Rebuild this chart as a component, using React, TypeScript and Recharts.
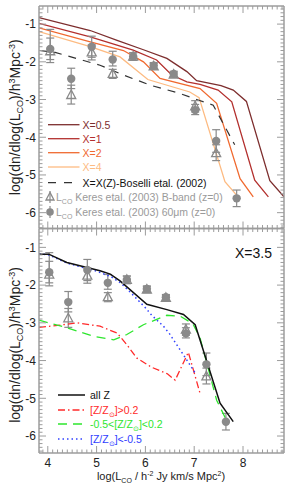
import React from "react";
import { ComposedChart, Line, Scatter, XAxis, YAxis, ErrorBar, Legend, Label } from "recharts";

const FONT = '"Liberation Sans", Arial, Helvetica, sans-serif';
const FRAME = "#9c9c9c";
const GREY = "#8a8a8a";

const xDomain: [number, number] = [3.82, 8.84];
const yDomainTop: [number, number] = [-6.42, -0.52];
const yDomainBottom: [number, number] = [-6.45, -0.5];

// tick labels
const xMajor = [4, 5, 6, 7, 8];
const yMajor = [-1, -2, -3, -4, -5, -6];
const step = (from: number, to: number) => {
  const out: number[] = [];
  for (let v = Math.round(from * 10); v <= Math.round(to * 10); v++) out.push(v / 10);
  return out;
};
const xTicks = step(3.9, 8.8);
const yTicksTop = step(-6.4, -0.6);
const yTicksBottom = step(-6.4, -0.5);

// Keres et al. (2003) CO luminosity function
const keresXTop = [4.05, 4.48, 4.9, 5.33, 5.75, 6.17, 6.58, 7.02, 7.45, 7.87];
const keresXBottom = [4.03, 4.42, 4.81, 5.23, 5.62, 6.03, 6.42, 6.83, 7.25, 7.65];
const fir60Y = [-1.66, -2.45, -1.6, -1.94, -1.86, -2.1, -2.32, -3.28, -4.1, -5.62];
const fir60ErrLo = [0.28, 0.26, 0.28, 0.17, 0.1, 0.08, 0.07, 0.12, 0.3, 0.22];
const fir60ErrHi = [0.52, 0.28, 0.28, 0.22, 0.1, 0.08, 0.07, 0.15, 0.3, 0.22];
const bbandY = [-1.72, -2.88, -1.75, -2.32, -1.86, -2.12, -2.34, -3.18, -4.42];
const bbandErrLo = [0.3, 0.24, 0.2, 0.12, 0.1, 0.08, 0.07, 0.15, 0.2];
const bbandErrHi = [0.35, 0.26, 0.2, 0.12, 0.1, 0.08, 0.07, 0.15, 0.22];

// top panel: conversion factor X
const x05X = [3.82, 4.87, 5.42, 5.96, 6.44, 6.85, 7.05, 7.55, 7.8, 8.07, 8.55, 8.84];
const x05Y = [-0.83, -1.17, -1.43, -1.68, -1.91, -2.26, -2.5, -2.63, -2.75, -3.05, -5.15, -5.58];
const x1X = [3.82, 4.87, 5.75, 6.23, 6.54, 6.85, 7.12, 7.49, 7.77, 8.24, 8.52];
const x1Y = [-0.98, -1.34, -1.69, -1.95, -2.35, -2.53, -2.6, -2.75, -3.06, -5.14, -5.58];
const x2X = [3.82, 4.87, 5.55, 5.96, 6.3, 7.12, 7.46, 7.94, 8.21];
const x2Y = [-1.1, -1.47, -1.7, -2.0, -2.44, -2.71, -3.1, -5.1, -5.58];
const x4X = [3.82, 4.87, 5.48, 6.05, 6.91, 7.1, 7.63, 7.9];
const x4Y = [-1.2, -1.6, -1.87, -2.47, -2.8, -2.95, -5.18, -5.58];
const boselliX = [3.82, 4.15, 5.07, 5.55, 6.1, 6.71, 7.05, 7.39, 7.83];
const boselliY = [-1.7, -1.75, -2.09, -2.35, -2.62, -2.84, -3.0, -3.15, -4.2];

// bottom panel: X=3.5 split by metallicity
const allZX = [3.82, 4.02, 4.39, 5.07, 5.28, 5.48, 6.03, 6.44, 6.78, 7.02, 7.53, 7.8];
const allZY = [-1.18, -1.18, -1.4, -1.62, -1.71, -1.89, -2.51, -2.65, -2.78, -3.05, -5.13, -5.62];
const hiZX = [3.82, 4.2, 4.6, 5.07, 5.42, 5.62, 5.82, 6.13, 6.45, 6.61, 6.88, 7.12];
const hiZY = [-3.12, -3.07, -3.0, -3.09, -3.27, -3.58, -3.93, -4.18, -4.35, -4.52, -3.78, -4.87];
const midZX = [3.82, 4.39, 4.94, 5.35, 5.62, 5.96, 6.44, 6.72, 6.97, 7.12, 7.46, 7.66];
const midZY = [-2.93, -3.13, -3.36, -3.45, -3.31, -3.05, -2.8, -2.83, -3.02, -3.4, -5.05, -5.58];
const loZX = [3.82, 4.02, 4.4, 5.0, 5.3, 5.5, 5.7, 6.0, 6.13, 6.37, 6.5, 6.78, 7.02];
const loZY = [-1.17, -1.2, -1.42, -1.63, -1.78, -1.95, -2.2, -2.6, -2.8, -3.09, -3.3, -3.85, -4.33];

const C05 = "#7d2e2e";
const C1 = "#b3302e";
const C2 = "#f06a30";
const C4 = "#fdbb82";
const RED = "#ff2a2a";
const GREEN = "#2ee62e";
const BLUE = "#3040ff";

const pts = (xs: number[], ys: number[]) => xs.map((x, i) => ({ x, y: ys[i] }));
const obs = (xs: number[], ys: number[], lo: number[], hi: number[]) =>
  ys.map((y, i) => ({ x: xs[i], y, err: [lo[i], hi[i]] }));

const isMajor = (v: number) => Math.abs(v - Math.round(v)) < 1e-6;

const makeTick = (side: string, labels: boolean) => (props: any) => {
  const { x, y, payload } = props;
  const v = payload.value;
  const len = isMajor(v) ? 7 : 3.5;
  let x2 = x;
  let y2 = y;
  if (side === "bottom") y2 = y - len;
  if (side === "top") y2 = y + len;
  if (side === "left") x2 = x + len;
  if (side === "right") x2 = x - len;
  const show = labels && isMajor(v);
  return (
    <g>
      <line x1={x} y1={y} x2={x2} y2={y2} stroke={FRAME} strokeWidth={1} />
      {show && side === "bottom" && (
        <text x={x} y={y + 14} textAnchor="middle" fontSize={12} fontFamily={FONT} fill="#222">
          {v}
        </text>
      )}
      {show && side === "left" && (
        <text x={x - 3} y={y} dy="0.36em" textAnchor="end" fontSize={12} fontFamily={FONT} fill="#222">
          {v}
        </text>
      )}
    </g>
  );
};

const YTitle = ({ cy }: { cy: number }) => (
  <text transform="rotate(-90)" x={-cy} y={19.5} textAnchor="middle" fontSize={14} fontFamily={FONT} fill="#222">
    log(dn/dlog(L
    <tspan dy={3} fontSize={9}>CO</tspan>
    <tspan dy={-3}>)/h</tspan>
    <tspan dy={-5} fontSize={9}>3</tspan>
    <tspan dy={5}>Mpc</tspan>
    <tspan dy={-5} fontSize={9}>-3</tspan>
    <tspan dy={5}>)</tspan>
  </text>
);

const frameAxes = (yDomain: [number, number], yTicks: number[], yCenter: number, xTitle: boolean) => [
  <XAxis
    key="xb"
    xAxisId="b"
    dataKey="x"
    type="number"
    orientation="bottom"
    domain={xDomain}
    allowDataOverflow
    ticks={xTicks}
    interval={0}
    height={1}
    tickSize={0}
    tickMargin={0}
    tickLine={false}
    axisLine={{ stroke: FRAME, strokeWidth: 1.5 }}
    tick={makeTick("bottom", xTitle)}
  >
    {xTitle && (
      <Label
        content={() => (
          <text x={161} y={252.5} textAnchor="middle" fontSize={11} fontFamily={FONT} fill="#222">
            log(L<tspan dy={3} fontSize={7}>CO</tspan>
            <tspan dy={-3}> / h</tspan>
            <tspan dy={-3.5} fontSize={7}>-2</tspan>
            <tspan dy={3.5}> Jy km/s Mpc</tspan>
            <tspan dy={-3.5} fontSize={7}>2</tspan>
            <tspan dy={3.5}>)</tspan>
          </text>
        )}
      />
    )}
  </XAxis>,
  <XAxis
    key="xt"
    xAxisId="t"
    dataKey="x"
    type="number"
    orientation="top"
    domain={xDomain}
    allowDataOverflow
    ticks={xTicks}
    interval={0}
    height={1}
    tickSize={0}
    tickMargin={0}
    tickLine={false}
    axisLine={{ stroke: FRAME, strokeWidth: 1.5 }}
    tick={makeTick("top", false)}
  />,
  <YAxis
    key="yl"
    yAxisId="l"
    dataKey="y"
    type="number"
    orientation="left"
    domain={yDomain}
    allowDataOverflow
    ticks={yTicks}
    interval={0}
    width={1}
    tickSize={0}
    tickMargin={0}
    tickLine={false}
    axisLine={{ stroke: FRAME, strokeWidth: 1.5 }}
    tick={makeTick("left", true)}
  >
    <Label content={() => <YTitle cy={yCenter} />} />
  </YAxis>,
  <YAxis
    key="yr"
    yAxisId="r"
    dataKey="y"
    type="number"
    orientation="right"
    domain={yDomain}
    allowDataOverflow
    ticks={yTicks}
    interval={0}
    width={1}
    tickSize={0}
    tickMargin={0}
    tickLine={false}
    axisLine={{ stroke: FRAME, strokeWidth: 1.5 }}
    tick={makeTick("right", false)}
  />,
];

const circleShape = (p: any) => <circle cx={p.cx} cy={p.cy} r={4.2} fill={GREY} />;
const triShape = (p: any) => (
  <polygon
    points={`${p.cx},${p.cy - 5} ${p.cx - 4.5},${p.cy + 3.5} ${p.cx + 4.5},${p.cy + 3.5}`}
    fill="none"
    stroke={GREY}
    strokeWidth={1.3}
  />
);

const keresSeries = (xs: number[]) => [
  <Scatter
    key="fir"
    xAxisId="b"
    yAxisId="l"
    data={obs(xs, fir60Y, fir60ErrLo, fir60ErrHi)}
    shape={circleShape}
    isAnimationActive={false}
  >
    <ErrorBar dataKey="err" direction="y" width={4} stroke={GREY} strokeWidth={1.2} isAnimationActive={false} />
  </Scatter>,
  <Scatter
    key="bb"
    xAxisId="b"
    yAxisId="l"
    data={obs(xs, bbandY, bbandErrLo, bbandErrHi)}
    shape={triShape}
    isAnimationActive={false}
  >
    <ErrorBar dataKey="err" direction="y" width={4} stroke={GREY} strokeWidth={1.2} isAnimationActive={false} />
  </Scatter>,
];

const LCO = ({ x, y, rest, color }: { x: number; y: number; rest: string; color: string }) => (
  <text x={x} y={y} fontSize={10.5} fontFamily={FONT} fill={color}>
    L<tspan dy={3} fontSize={7}>CO</tspan>
    <tspan dy={-3}>{rest}</tspan>
  </text>
);

const topRows = [
  { label: "X=0.5", color: C05, text: C05, dash: undefined as string | undefined, y: 124.7 },
  { label: "X=1", color: C1, text: C1, dash: undefined, y: 138.7 },
  { label: "X=2", color: C2, text: C2, dash: undefined, y: 152.7 },
  { label: "X=4", color: C4, text: C4, dash: undefined, y: 167 },
  { label: "X=X(Z)-Boselli etal. (2002)", color: "#333", text: "#111", dash: "8 8", y: 182.7 },
];

const TopLegend = () => (
  <svg width={299} height={230} style={{ position: "absolute", left: 0, top: 0, pointerEvents: "none" }}>
    {topRows.map((r) => (
      <g key={r.label}>
        <line x1={48} x2={79.5} y1={r.y} y2={r.y} stroke={r.color} strokeWidth={1.3} strokeDasharray={r.dash} />
        <text x={82.5} y={r.y + 3.8} fontSize={10.5} fontFamily={FONT} fill={r.text}>
          {r.label}
        </text>
      </g>
    ))}
    <line x1={50} x2={50} y1={191} y2={203} stroke={GREY} strokeWidth={1.2} />
    <polygon points="50,192.5 46,200 54,200" fill="none" stroke={GREY} strokeWidth={1.3} />
    <LCO x={56} y={200.8} rest=" Keres etal. (2003) B-band (z=0)" color="#9a9a9a" />
    <line x1={50} x2={50} y1={206} y2={218} stroke={GREY} strokeWidth={1.2} />
    <circle cx={50} cy={212} r={3.8} fill={GREY} />
    <LCO x={56} y={215.8} rest=" Keres etal. (2003) 60μm (z=0)" color="#9a9a9a" />
  </svg>
);

const ZLabel = ({ x, y, pre, post, color }: { x: number; y: number; pre: string; post: string; color: string }) => (
  <text x={x} y={y} fontSize={10.5} fontFamily={FONT} fill={color}>
    {pre}[Z/Z<tspan dy={3} fontSize={7}>⊙</tspan>
    <tspan dy={-3}>]{post}</tspan>
  </text>
);

// bottom chart starts at page y = 227
const BottomLegend = () => (
  <svg width={299} height={263} style={{ position: "absolute", left: 0, top: 0, pointerEvents: "none" }}>
    <text x={235} y={31} fontSize={14} fontFamily={FONT} fill="#111">
      X=3.5
    </text>
    <line x1={58} x2={85} y1={168} y2={168} stroke="#111" strokeWidth={1.5} />
    <text x={90} y={171.8} fontSize={10.5} fontFamily={FONT} fill="#111">
      all Z
    </text>
    <line x1={58} x2={85} y1={183} y2={183} stroke={RED} strokeWidth={1.3} strokeDasharray="7 3 1.5 3" />
    <ZLabel x={90} y={186.8} pre="" post=">0.2" color={RED} />
    <line x1={58} x2={85} y1={197} y2={197} stroke={GREEN} strokeWidth={1.3} strokeDasharray="9 6" />
    <ZLabel x={90} y={200.8} pre="-0.5<" post="<0.2" color={GREEN} />
    <line x1={58} x2={85} y1={212} y2={212} stroke={BLUE} strokeWidth={1.5} strokeDasharray="1.5 3" />
    <ZLabel x={90} y={215.8} pre="" post="<-0.5" color={BLUE} />
  </svg>
);

export default function App() {
  return (
    <div style={{ position: "absolute", left: 0, top: 0, width: 299, height: 490, background: "#fff" }}>
      <div style={{ position: "absolute", left: 0, top: 0 }}>
        <ComposedChart width={299} height={230} margin={{ top: 5, right: 14, bottom: 0.5, left: 38 }}>
          {frameAxes(yDomainTop, yTicksTop, 117.3, false)}
          <Line xAxisId="b" yAxisId="l" data={pts(x05X, x05Y)} dataKey="y" stroke={C05} strokeWidth={1.3} dot={false} isAnimationActive={false} />
          <Line xAxisId="b" yAxisId="l" data={pts(x1X, x1Y)} dataKey="y" stroke={C1} strokeWidth={1.3} dot={false} isAnimationActive={false} />
          <Line xAxisId="b" yAxisId="l" data={pts(x2X, x2Y)} dataKey="y" stroke={C2} strokeWidth={1.3} dot={false} isAnimationActive={false} />
          <Line xAxisId="b" yAxisId="l" data={pts(x4X, x4Y)} dataKey="y" stroke={C4} strokeWidth={1.3} dot={false} isAnimationActive={false} />
          <Line xAxisId="b" yAxisId="l" data={pts(boselliX, boselliY)} dataKey="y" stroke="#333" strokeWidth={1.2} strokeDasharray="8 7" dot={false} isAnimationActive={false} />
          {keresSeries(keresXTop)}
          <Legend
            layout="horizontal"
            verticalAlign="middle"
            align="center"
            wrapperStyle={{ left: 0, top: 0, width: 299, height: 230 }}
            content={() => <TopLegend />}
          />
        </ComposedChart>
      </div>
      <div style={{ position: "absolute", left: 0, top: 227 }}>
        <ComposedChart width={299} height={263} margin={{ top: 0.5, right: 14, bottom: 36, left: 38 }}>
          {frameAxes(yDomainBottom, yTicksBottom, 118, true)}
          {keresSeries(keresXBottom)}
          <Line xAxisId="b" yAxisId="l" data={pts(hiZX, hiZY)} dataKey="y" stroke={RED} strokeWidth={1.3} strokeDasharray="7 3 1.5 3" dot={false} isAnimationActive={false} />
          <Line xAxisId="b" yAxisId="l" data={pts(midZX, midZY)} dataKey="y" stroke={GREEN} strokeWidth={1.3} strokeDasharray="9 6" dot={false} isAnimationActive={false} />
          <Line xAxisId="b" yAxisId="l" data={pts(loZX, loZY)} dataKey="y" stroke={BLUE} strokeWidth={1.5} strokeDasharray="1.5 3" dot={false} isAnimationActive={false} />
          <Line xAxisId="b" yAxisId="l" data={pts(allZX, allZY)} dataKey="y" stroke="#111" strokeWidth={1.5} dot={false} isAnimationActive={false} />
          <Legend
            layout="horizontal"
            verticalAlign="middle"
            align="center"
            wrapperStyle={{ left: 0, top: 0, width: 299, height: 263 }}
            content={() => <BottomLegend />}
          />
        </ComposedChart>
      </div>
    </div>
  );
}
